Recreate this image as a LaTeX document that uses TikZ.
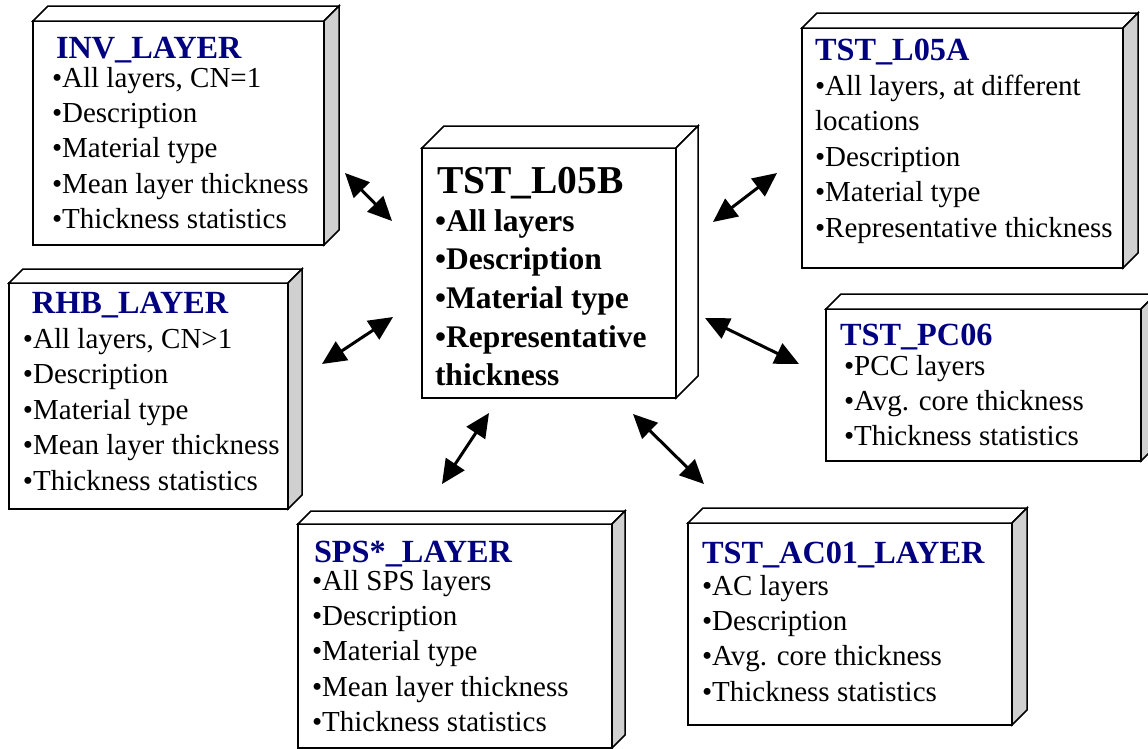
\documentclass[tikz,border=0pt]{standalone}
\usepackage{fontspec}
\setmainfont{Liberation Serif}
\usetikzlibrary{arrows.meta}
\definecolor{navy}{RGB}{0,0,128}
\definecolor{sidegray}{RGB}{208,208,208}
\tikzset{
  boxline/.style={draw=black, line width=1.5pt, line join=miter},
  txt/.style={anchor=base west, inner sep=0pt, outer sep=0pt},
  dbl/.style={line width=3pt, {Triangle[length=24pt,width=22pt]}-{Triangle[length=24pt,width=22pt]}},
}
% #1 x1, #2 y1, #3 x2, #4 y2, #5 depth, #6 side fill
\newcommand\solidbox[6]{%
  \draw[boxline, fill=white] (#1,#2) rectangle (#3,#4);
  \draw[boxline, fill=white] (#1,#2) -- (#1+#5,#2-#5) -- (#3+#5,#2-#5) -- (#3,#2) -- cycle;
  \draw[boxline, fill=#6] (#3,#2) -- (#3+#5,#2-#5) -- (#3+#5,#4-#5) -- (#3,#4) -- cycle;
}
\newcommand\ttl[1]{\leavevmode{\fontsize{32.3}{35.4}\selectfont\bfseries\color{navy}#1}}
\newcommand\bodyfont{\fontsize{29}{35.4}\selectfont}
\begin{document}
\begin{tikzpicture}[x=1pt,y=-1pt]
\useasboundingbox (0,0) rectangle (1148,748);
\clip (0,0) rectangle (1148,748);

% boxes
\solidbox{33}{21}{324}{245}{15}{sidegray}
\solidbox{9}{283}{288}{509}{14}{sidegray}
\solidbox{422}{148}{676}{398}{22}{white}
\solidbox{802}{28}{1123}{268}{15}{sidegray}
\solidbox{826}{309}{1141}{461}{15}{sidegray}
\solidbox{298}{524}{612}{748}{13}{sidegray}
\solidbox{688}{523}{1012}{725}{15}{sidegray}

% texts
\node[txt] (inv) at (52,58) {\parbox[t]{400pt}{\bodyfont
  \ttl{\hspace*{4pt}INV\_LAYER}\\[-6.4pt]
  •All layers, CN=1\\
  •Description\\
  •Material type\\
  •Mean layer thickness\\
  •Thickness statistics}};

\node[txt] (rhb) at (23,313) {\parbox[t]{400pt}{\bodyfont
  \ttl{\hspace*{9pt}RHB\_LAYER}\\
  •All layers, CN>1\\
  •Description\\
  •Material type\\
  •Mean layer thickness\\
  •Thickness statistics}};

\node[txt] (center) at (435,193) {\parbox[t]{400pt}{\fontsize{31.5}{38.7}\selectfont\bfseries
  {\fontsize{39.5}{38.7}\selectfont\hspace*{2pt}TST\_L05B}\\[-0.7pt]
  •All layers\\
  •Description\\
  •Material type\\
  •Representative\\
  thickness}};

\node[txt] (l05a) at (815,60) {\parbox[t]{400pt}{\bodyfont
  \ttl{TST\_L05A}\\
  •All layers, at different\\
  locations\\
  •Description\\
  •Material type\\
  •Representative thickness}};

\node[txt] (pc06) at (844,345) {\parbox[t]{400pt}{\bodyfont
  \ttl{\hspace*{-4pt}TST\_PC06}\\[-5.4pt]
  •PCC layers\\
  •Avg. core thickness\\
  •Thickness statistics}};

\node[txt] (sps) at (312,562) {\parbox[t]{400pt}{\bodyfont
  \ttl{\hspace*{2pt}SPS*\_LAYER}\\[-7.4pt]
  •All SPS layers\\
  •Description\\
  •Material type\\
  •Mean layer thickness\\
  •Thickness statistics}};

\node[txt] (ac01) at (702,563) {\parbox[t]{400pt}{\bodyfont
  \ttl{TST\_AC01\_LAYER}\\[-3.4pt]
  •AC layers\\
  •Description\\
  •Avg. core thickness\\
  •Thickness statistics}};

% arrow end points
\coordinate (a1s) at (345,173); \coordinate (a1e) at (392,221);
\coordinate (a2s) at (777,173); \coordinate (a2e) at (713,222);
\coordinate (a3s) at (393,317); \coordinate (a3e) at (322,364);
\coordinate (a4s) at (705,318); \coordinate (a4e) at (799,364);
\coordinate (a5s) at (489,413); \coordinate (a5e) at (442,484);
\coordinate (a6s) at (633,414); \coordinate (a6e) at (704,484);

\draw[dbl] (a1s) -- (a1e);
\draw[dbl] (a2s) -- (a2e);
\draw[dbl] (a3s) -- (a3e);
\draw[dbl] (a4s) -- (a4e);
\draw[dbl] (a5s) -- (a5e);
\draw[dbl] (a6s) -- (a6e);
\end{tikzpicture}
\end{document}
